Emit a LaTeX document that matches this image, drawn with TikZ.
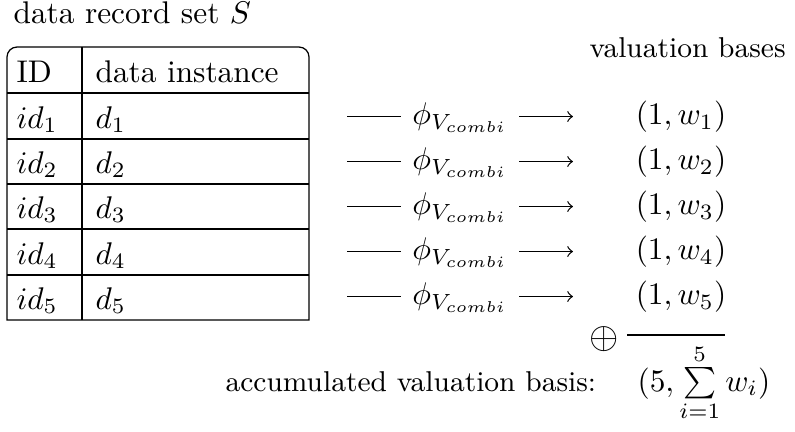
\documentclass[tikz,border=0pt]{standalone}
\begin{document}
\begin{tikzpicture}[x=0.319pt,y=-0.319pt,
  txt/.style={inner sep=0pt, anchor=base west},
  smalltxt/.style={txt, font=\fontsize{9.15}{11}\selectfont},
  phinode/.style={inner xsep=3.5pt, inner ysep=0pt, anchor=base},
  basis/.style={inner sep=0pt, anchor=base},
  rule/.style={line width=0.4pt},
  arr/.style={->, line width=0.4pt}]
\useasboundingbox (0,0) rectangle (795,431);
% title
\node[txt] (title) at (13,23) {data record set $S$};
% table frame
\draw[rule] (7,320) -- (7,57) arc[start angle=180,end angle=270,radius=10]
  -- (299,47) arc[start angle=270,end angle=360,radius=10] -- (309,320) -- cycle;
\draw[rule] (82,47) -- (82,320);
\foreach \yy in {93,139,184,229,275} \draw[rule] (7,\yy) -- (309,\yy);
% header
\node[txt] (hid) at (16,82) {ID};
\node[txt] (hdata) at (95,82) {data instance};
\node[smalltxt] (valh) at (589,57) {valuation bases};
% rows
\foreach \i/\yb/\yc in {1/128/116.5, 2/173/161.5, 3/218/206.5, 4/264/251.5, 5/309/296.5}{
  \node[txt] (id\i) at (16,\yb) {$id_{\i}$};
  \node[txt] (d\i) at (95,\yb) {$d_{\i}$};
  \coordinate (s\i) at (347,\yc);
  \coordinate (t\i) at (573,\yc);
  \node[phinode] (p\i) at (460,\yc+7.8) {$\phi_{V_{combi}}$};
  \draw[rule] (s\i) -- (s\i -| p\i.west);
  \draw[arr] (p\i.east |- t\i) -- (t\i);
  \node[basis] (b\i) at (681,\yc+7.8) {$(1,w_{\i})$};
}
% accumulation
\node[inner sep=0pt] (oplus) at (604,339) {\large$\oplus$};
\coordinate (r1) at (627,335);
\coordinate (r2) at (725,335);
\draw[rule] (r1) -- (r2);
\node[smalltxt] (acc) at (225,391) {accumulated valuation basis:};
\node[txt] (sum) at (637,391) {$(5,\sum\limits_{i=1}^{5} w_i)$};
\end{tikzpicture}
\end{document}
